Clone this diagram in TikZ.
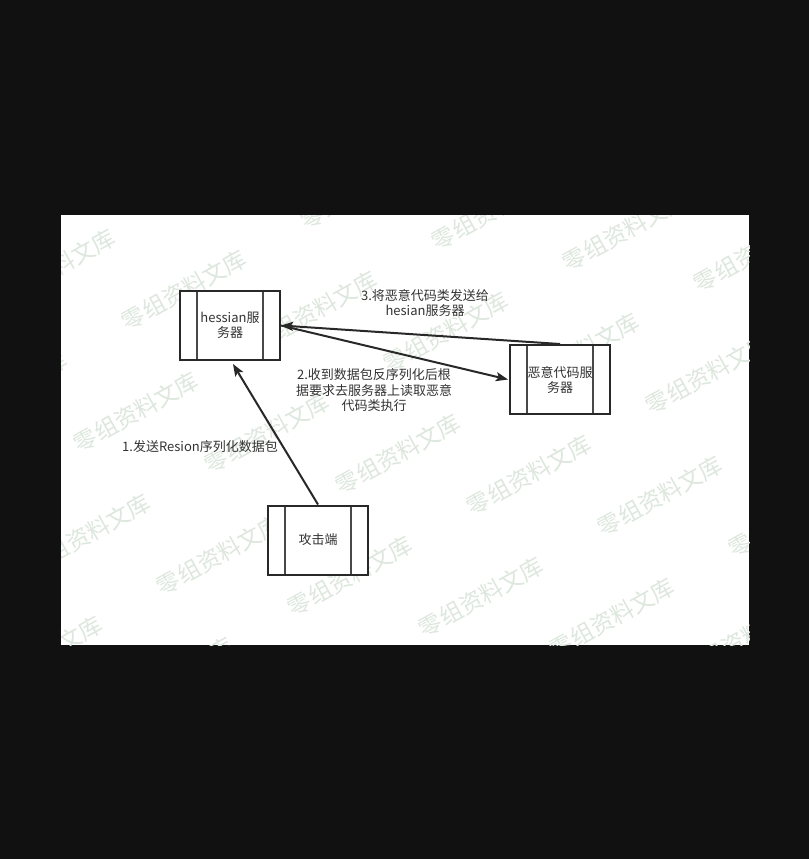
\documentclass[tikz,border=0pt]{standalone}
\usepackage{fontspec}
\setmainfont{Noto Sans CJK SC}
\usetikzlibrary{arrows.meta,calc}
\definecolor{bgdark}{RGB}{17,17,17}
\definecolor{ink}{RGB}{40,40,40}
\definecolor{txt}{RGB}{51,51,51}
\definecolor{wm}{RGB}{221,231,221}
\tikzset{
  procbox/.style={draw=ink, line width=2pt, fill=white, minimum width=100pt, minimum height=69pt,
    inner sep=0pt, text=txt, align=center, font=\fontsize{13pt}{15pt}\selectfont,
    path picture={
      \draw[line width=1.6pt, ink!85]
        ([xshift=17pt]path picture bounding box.north west) -- ([xshift=17pt]path picture bounding box.south west)
        ([xshift=-17pt]path picture bounding box.north east) -- ([xshift=-17pt]path picture bounding box.south east);
    }},
  arr/.style={draw=ink, line width=2pt, -{Stealth[length=12pt,width=9pt,inset=2.5pt]}},
  lbl/.style={text=txt, align=center, font=\fontsize{13pt}{15.5pt}\selectfont, inner sep=0pt},
  wmark/.style={text=wm, font=\fontsize{23pt}{23pt}\selectfont, rotate=29, inner sep=0pt}
}
\begin{document}
\begin{tikzpicture}[x=1pt,y=-1pt]
  \useasboundingbox (0,0) rectangle (809,859);
  \fill[bgdark] (0,0) rectangle (809,859);
  \fill[white] (61,215) rectangle (749,645);
  \begin{scope}
    \clip (61,215) rectangle (749,645);
    \foreach \i in {-2,...,6}{
      \foreach \j in {-1,...,4}{
        \pgfmathsetmacro\wx{184+131*\i-48*\j}
        \pgfmathsetmacro\wy{290+21*\i+122*\j}
        \ifdim\wx pt>-5pt \ifdim\wx pt<815pt \ifdim\wy pt>178pt \ifdim\wy pt<682pt
          \node[wmark] (wm\i\j) at (\wx,\wy) {零组资料文库};
        \fi\fi\fi\fi
      }
    }
  \end{scope}

  \node[procbox] (hes) at (230,325.5) {hessian服\\务器};
  \node[procbox] (evil) at (560,379.5) {恶意代码服\\务器};
  \node[procbox] (atk) at (318,540) {攻击端};

  \draw[arr] (atk.north) -- ([xshift=3pt,yshift=-3pt]hes.south);
  \draw[arr] (evil.north) -- (hes.east);
  \draw[arr] (hes.east) -- ([xshift=-1pt]evil.west);

  \node[lbl] (l3) at (425,303) {3.将恶意代码类发送给\\hesian服务器};
  \node[lbl] (l2) at (374,390.5) {2.收到数据包反序列化后根\\据要求去服务器上读取恶意\\代码类执行};
  \node[lbl] (l1) at (200,447) {1.发送Resion序列化数据包};
\end{tikzpicture}
\end{document}
